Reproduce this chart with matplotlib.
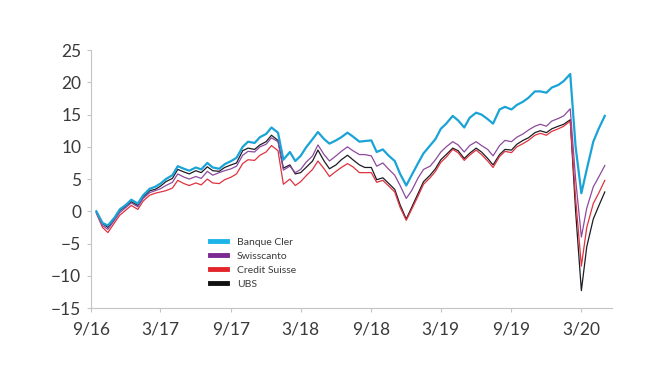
import matplotlib
matplotlib.use("Agg")
import matplotlib.pyplot as plt
import pandas as pd

# semi-monthly observations, Sep 2016 - May 2020
dates = pd.date_range("2016-09-15", periods=88, freq="SMS")

banque_cler = [
    0.0, -1.8, -2.2, -1.0, 0.3, 1.0, 1.8, 1.2, 2.5, 3.5, 3.8, 4.3,
    5.0, 5.6, 7.0, 6.6, 6.3, 6.8, 6.5, 7.5, 6.8, 6.6, 7.3, 7.8,
    8.3, 10.0, 10.8, 10.6, 11.5, 12.0, 13.0, 12.2, 8.0, 9.2, 7.8, 8.6,
    9.9, 11.2, 12.3, 11.2, 10.5, 11.0, 11.5, 12.2, 11.6, 10.8, 10.9, 11.0,
    9.2, 9.6, 8.7, 7.8, 5.8, 4.0, 5.6, 7.5, 9.0, 10.2, 11.2, 12.8,
    13.6, 14.8, 14.1, 13.0, 14.5, 15.3, 15.0, 14.3, 13.6, 15.8, 16.2, 15.8,
    16.5, 17.0, 17.6, 18.6, 18.6, 18.4, 19.2, 19.6, 20.2, 21.3, 10.0, 2.8,
    6.5, 10.8, 12.8, 14.8,
]
swisscanto = [
    -0.2, -2.2, -2.8, -1.4, -0.2, 0.6, 1.3, 0.7, 2.0, 2.9, 3.2, 3.5,
    4.0, 4.5, 5.8, 5.3, 5.0, 5.4, 5.1, 6.2, 5.6, 6.0, 6.3, 6.6,
    7.0, 8.7, 9.3, 9.2, 10.0, 10.4, 11.4, 10.8, 6.4, 7.0, 6.0, 6.5,
    7.6, 8.6, 10.3, 8.8, 7.8, 8.6, 9.3, 10.0, 9.4, 8.8, 8.8, 8.6,
    7.0, 7.5, 6.6, 5.6, 4.0, 2.0, 3.2, 5.2, 6.5, 7.0, 8.0, 9.2,
    10.0, 10.8, 10.3, 9.2, 10.2, 10.8, 10.2, 9.6, 8.6, 10.2, 11.0, 10.8,
    11.5, 12.0, 12.6, 13.2, 13.5, 13.2, 14.0, 14.4, 14.8, 15.9, 5.0, -4.0,
    0.5, 3.8, 5.3, 7.1,
]
credit_suisse = [
    -0.3, -2.5, -3.3, -1.8, -0.6, 0.2, 0.9, 0.3, 1.6, 2.5, 2.8, 3.0,
    3.2, 3.6, 4.8, 4.3, 4.0, 4.4, 4.1, 5.0, 4.4, 4.3, 4.9, 5.3,
    5.8, 7.4, 8.0, 7.9, 8.7, 9.2, 10.2, 9.4, 4.2, 5.0, 4.0, 4.6,
    5.5, 6.5, 7.8, 6.6, 5.4, 6.2, 6.8, 7.4, 6.9, 6.0, 6.0, 6.0,
    4.5, 4.8, 4.0, 3.0, 0.6, -1.4, 0.3, 2.4, 4.2, 5.2, 6.2, 7.6,
    8.4, 9.6, 9.1, 7.9, 8.7, 9.5, 8.8, 7.8, 6.8, 8.5, 9.3, 9.1,
    10.0, 10.5, 11.0, 11.8, 12.1, 11.8, 12.4, 12.8, 13.2, 14.0, 2.0, -8.5,
    -2.5, 1.2, 2.8, 4.8,
]
ubs = [
    -0.1, -1.9, -2.5, -1.2, 0.1, 0.8, 1.5, 0.9, 2.2, 3.2, 3.4, 3.9,
    4.6, 5.1, 6.5, 6.1, 5.8, 6.3, 6.0, 6.9, 6.3, 6.2, 6.8, 7.2,
    7.5, 9.4, 9.8, 9.6, 10.3, 10.8, 11.8, 11.0, 6.7, 7.2, 5.8, 6.0,
    6.8, 7.8, 9.5, 7.8, 6.6, 7.2, 8.0, 8.7, 8.0, 7.2, 6.8, 6.8,
    4.9, 5.2, 4.4, 3.4, 1.0, -1.2, 0.6, 2.8, 4.6, 5.6, 6.6, 8.0,
    8.8, 9.8, 9.4, 8.2, 9.0, 9.8, 9.2, 8.2, 7.2, 8.8, 9.6, 9.5,
    10.4, 11.0, 11.4, 12.2, 12.5, 12.2, 12.8, 13.2, 13.5, 14.2, 0.0, -12.3,
    -5.5, -1.2, 0.8, 3.0,
]

tick_dates = pd.to_datetime([
    "2016-09-01", "2017-03-01", "2017-09-01", "2018-03-01",
    "2018-09-01", "2019-03-01", "2019-09-01", "2020-03-01",
])
tick_labels = ["9/16", "3/17", "9/17", "3/18", "9/18", "3/19", "9/19", "3/20"]
y_ticks = [-15, -10, -5, 0, 5, 10, 15, 20, 25]

plt.rcParams["font.family"] = ["Lato", "DejaVu Sans"]

fig = plt.figure(figsize=(6.7, 3.77), dpi=100)
ax = fig.add_axes([0.1358, 0.183, 0.7772, 0.684])

ax.plot(dates, ubs, color="#1c1c24", lw=0.9, label="UBS", zorder=2)
ax.plot(dates, credit_suisse, color="#e0323e", lw=0.9, label="Credit Suisse", zorder=3)
ax.plot(dates, swisscanto, color="#8d4a9e", lw=0.9, label="Swisscanto", zorder=4)
ax.plot(dates, banque_cler, color="#1aa3d6", lw=1.6, label="Banque Cler", zorder=5)

ax.set_xlim(pd.Timestamp("2016-09-01"), pd.Timestamp("2020-05-19"))
ax.set_ylim(-15, 25)
ax.set_xticks(tick_dates)
ax.set_xticklabels(tick_labels)
ax.set_yticks(y_ticks)

for side in ("top", "right"):
    ax.spines[side].set_visible(False)
for side in ("left", "bottom"):
    ax.spines[side].set_color("#c4c4c4")
    ax.spines[side].set_linewidth(0.8)
ax.tick_params(colors="#c4c4c4", labelcolor="#3a3a3a", labelsize=12.5,
               length=3, width=0.8)
ax.tick_params(axis="x", pad=7)
ax.tick_params(axis="y", pad=4)

# legend order follows the reference
handles, labels = ax.get_legend_handles_labels()
order = [3, 2, 1, 0]
leg = ax.legend([handles[i] for i in order], [labels[i] for i in order],
                loc="upper left", bbox_to_anchor=(0.21, 0.31), frameon=False,
                fontsize=7.5, handlelength=1.7, handletextpad=0.9,
                labelspacing=0.45)
colors = ["#1ab4e8", "#7a2a90", "#e3242b", "#111111"]
for line, c in zip(leg.get_lines(), colors):
    line.set_linewidth(3.5)
    line.set_color(c)
for t in leg.get_texts():
    t.set_color("#3a3a3a")

fig.savefig("out.png", dpi=100)
